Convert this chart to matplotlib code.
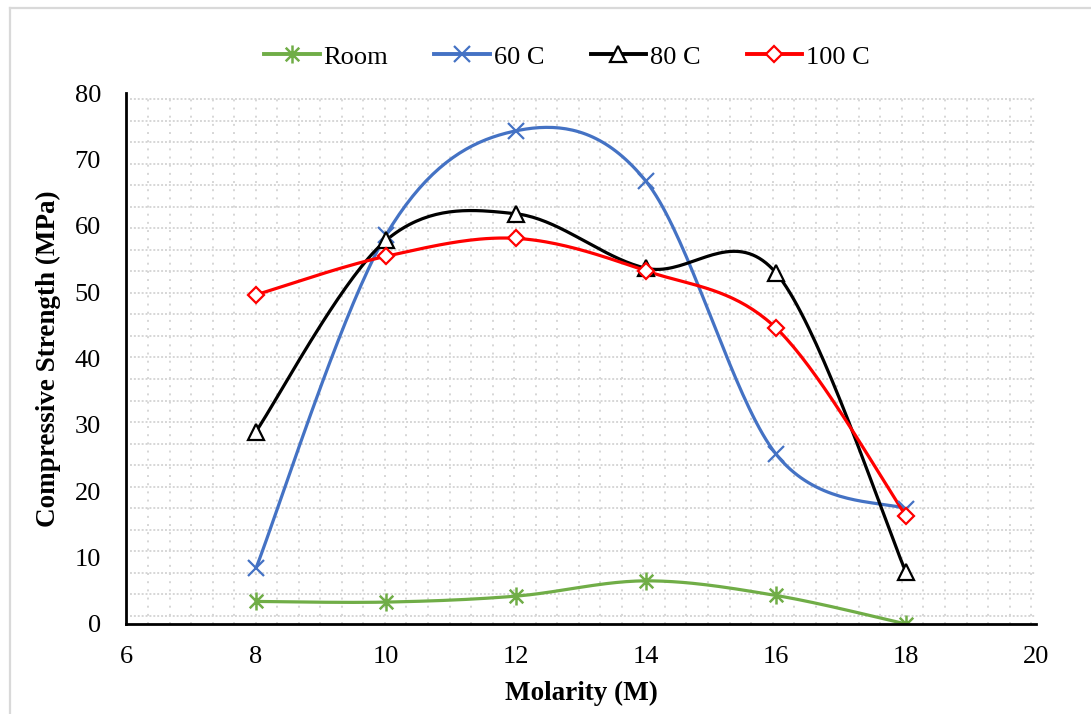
import numpy as np
from matplotlib import pyplot as plt
from matplotlib.path import Path
from matplotlib.lines import Line2D

plt.rcParams['font.family'] = ['Liberation Serif', 'DejaVu Serif']

molarity = [8, 10, 12, 14, 16, 18]
room = [3.4, 3.3, 4.2, 6.5, 4.3, 0.0]
temp_60 = [8.4, 58.6, 74.3, 66.7, 25.6, 17.3]
temp_80 = [29.0, 57.8, 61.8, 53.6, 52.9, 7.8]
temp_100 = [49.6, 55.4, 58.1, 53.2, 44.6, 16.3]
labels = ['Room', '60 C', '80 C', '100 C']
colors = ['#70AD47', '#4472C4', '#000000', '#FF0000']


def smooth(xs, ys, n=40):
    # excel style smoothed line: cubic bezier with catmull-rom control points
    p = np.column_stack([xs, ys]).astype(float)
    p = np.vstack([p[0], p, p[-1]])
    out = []
    for i in range(1, len(p) - 2):
        p0, p1, p2, p3 = p[i - 1], p[i], p[i + 1], p[i + 2]
        c1 = p1 + (p2 - p0) / 6
        c2 = p2 - (p3 - p1) / 6
        t = np.linspace(0, 1, n)[:, None]
        seg = ((1 - t) ** 3 * p1 + 3 * (1 - t) ** 2 * t * c1
               + 3 * (1 - t) * t ** 2 * c2 + t ** 3 * p2)
        out.append(seg if i == 1 else seg[1:])
    out = np.vstack(out)
    return out[:, 0], out[:, 1]


# asterisk marker: vertical stroke plus an x
star = Path([(0, -1), (0, 1), (-0.75, -0.75), (0.75, 0.75), (-0.75, 0.75), (0.75, -0.75)],
            [Path.MOVETO, Path.LINETO, Path.MOVETO, Path.LINETO, Path.MOVETO, Path.LINETO])

markers = [dict(marker=star, markersize=13, markeredgewidth=1.8),
           dict(marker='x', markersize=11, markeredgewidth=1.6),
           dict(marker='^', markersize=11, markeredgewidth=1.6, markerfacecolor='white'),
           dict(marker='D', markersize=8, markeredgewidth=1.6, markerfacecolor='white')]

W, H = 1091, 714
fig = plt.figure(figsize=(W / 100, H / 100), dpi=100)
left, right, top, bottom = 126, 1036, 93, 624
ax = fig.add_axes([left / W, 1 - bottom / H, (right - left) / W, (bottom - top) / H])

# dotted grid pattern in the plot area
step = 21.54
for xp in np.arange(148, right - 4, step):
    xf = (xp - left) / (right - left)
    ax.plot([xf, xf], [0, (bottom - 99 + 4) / (bottom - top)], transform=ax.transAxes,
            color='#d6d6d6', lw=1.4, ls=(0, (1, 3.2)), zorder=0)
for yp in np.arange(99, bottom, step):
    yf = (bottom - yp) / (bottom - top)
    ax.plot([0.004, 1], [yf, yf], transform=ax.transAxes,
            color='#d6d6d6', lw=1.4, ls=(0, (1, 1)), zorder=0)

series = [room, temp_60, temp_80, temp_100]
for ys, lab, c, mk in zip(series, labels, colors, markers):
    sx, sy = smooth(molarity, ys)
    ax.plot(sx, sy, color=c, lw=2.3, zorder=3, solid_capstyle='round')
    ax.plot(molarity, ys, ls='none', color=c, markeredgecolor=c, zorder=4, **mk)

ax.set_xlim(6, 20)
ax.set_ylim(0, 80)
ax.set_xticks(range(6, 21, 2))
ax.set_yticks(range(0, 81, 10))
ax.tick_params(length=0, labelsize=19, pad=18)
ax.tick_params(axis='x', pad=16)
for s in ['top', 'right']:
    ax.spines[s].set_visible(False)
for s in ['left', 'bottom']:
    ax.spines[s].set_linewidth(2)
    ax.spines[s].set_color('black')
ax.spines['bottom'].set_zorder(5)

ax.set_xlabel('Molarity (M)', fontsize=19.5, fontweight='bold', labelpad=9)
ax.set_ylabel('Compressive Strength (MPa)', fontsize=19.5, fontweight='bold', labelpad=10)

handles = [Line2D([], [], color=c, lw=2.8, markeredgecolor=c, **mk)
           for c, mk in zip(colors, markers)]
fig.legend(handles, labels, loc='center', bbox_to_anchor=(567 / W, 1 - 57 / H), ncol=4,
           frameon=False, fontsize=19, handlelength=2.1, handletextpad=0.15,
           columnspacing=1.75)

# chart border (left and top edges)
fig.add_artist(Line2D([10 / W, 10 / W], [0, 1 - 8 / H], transform=fig.transFigure,
                      color='#d9d9d9', lw=1.6))
fig.add_artist(Line2D([10 / W, 1], [1 - 8 / H, 1 - 8 / H], transform=fig.transFigure,
                      color='#d9d9d9', lw=1.6))

plt.savefig('out.png', dpi=100)
